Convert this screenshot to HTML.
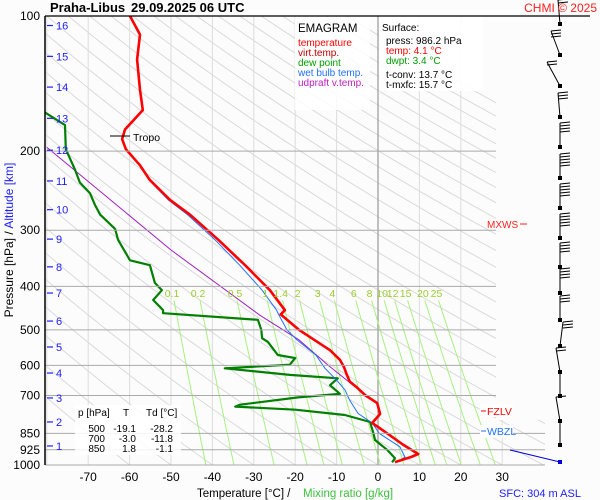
<!DOCTYPE html>
<html><head><meta charset="utf-8"><style>
html,body{margin:0;padding:0;background:#fff;}
svg{display:block;font-family:"Liberation Sans",sans-serif;}
</style></head><body>
<svg id="c" width="600" height="500" viewBox="0 0 600 500">
<rect width="600" height="500" fill="#fcfcfc"/>
<defs><clipPath id="pc"><polygon points="45,16 496,16 496,420 545,420 545,465 45,465"/></clipPath></defs>
<g id="grid" clip-path="url(#pc)"></g>
<g id="series" clip-path="url(#pc)"></g>
<g id="axes"></g>
<g id="barbs"></g>
<g><text x="50" y="12" font-size="13" font-weight="bold">Praha-Libus</text><text x="131" y="12" font-size="13" font-weight="bold">29.09.2025 06 UTC</text></g>
<text x="597" y="12" font-size="12" fill="#ff2020" text-anchor="end">CHMI © 2025</text>
<g>
<rect x="295" y="17" width="75" height="93" fill="#fff" opacity="0.85"/>
<text x="298" y="32" font-size="11.5">EMAGRAM</text>
<text x="298" y="46" font-size="10" fill="#ff0000">temperature</text>
<text x="298" y="56" font-size="10" fill="#c00000">virt.temp.</text>
<text x="298" y="66" font-size="10" fill="#00a000">dew point</text>
<text x="298" y="76" font-size="10" fill="#2070ff">wet bulb temp.</text>
<text x="298" y="86" font-size="10" fill="#c020c0">udpraft v.temp.</text>
</g>
<g>
<rect x="379" y="17" width="104" height="74" fill="#fff" opacity="0.9"/>
<text x="382" y="31" font-size="10">Surface:</text>
<text x="386" y="44" font-size="10">press: 986.2 hPa</text>
<text x="386" y="54" font-size="10" fill="#ff0000">temp: 4.1 °C</text>
<text x="386" y="64" font-size="10" fill="#00a000">dwpt: 3.4 °C</text>
<text x="386" y="78" font-size="10">t-conv: 13.7 °C</text>
<text x="386" y="88" font-size="10">t-mxfc: 15.7 °C</text>
</g>
<g><line x1="110" y1="136" x2="130" y2="136" stroke="#000"/><text x="133" y="141" font-size="10.5">Tropo</text></g>
<g>
<rect x="75" y="405" width="106" height="50" fill="#fff" opacity="0.85"/>
<text x="78" y="416" font-size="10">p [hPa]</text><text x="123" y="416" font-size="10">T</text><text x="146" y="416" font-size="10">Td [°C]</text>
<text x="105" y="432" font-size="10" text-anchor="end">500</text><text x="136" y="432" font-size="10" text-anchor="end">-19.1</text><text x="173" y="432" font-size="10" text-anchor="end">-28.2</text>
<text x="105" y="442" font-size="10" text-anchor="end">700</text><text x="136" y="442" font-size="10" text-anchor="end">-3.0</text><text x="173" y="442" font-size="10" text-anchor="end">-11.8</text>
<text x="105" y="452" font-size="10" text-anchor="end">850</text><text x="136" y="452" font-size="10" text-anchor="end">1.8</text><text x="173" y="452" font-size="10" text-anchor="end">-1.1</text>
</g>
<g><text x="487" y="228" font-size="10" fill="#ff2020">MXWS</text><line x1="520" y1="224" x2="527" y2="224" stroke="#ff2020"/></g>
<g><rect x="480" y="404" width="33" height="13" fill="#fff"/><line x1="481" y1="411" x2="486" y2="411" stroke="#ff0000"/><text x="487" y="415" font-size="10.5" fill="#ff0000">FZLV</text></g>
<g><rect x="480" y="425" width="33" height="13" fill="#fff"/><line x1="481" y1="431" x2="486" y2="431" stroke="#2070ff"/><text x="487" y="435" font-size="10.5" fill="#2070ff">WBZL</text></g>
<g><text x="197" y="497" font-size="11.5">Temperature [°C]  /</text><text x="303" y="497" font-size="11.5" fill="#40c040">Mixing ratio [g/kg]</text></g>
<text x="540" y="497" font-size="11" fill="#2020ff" text-anchor="middle">SFC: 304 m ASL</text>
<g transform="translate(13,240) rotate(-90)"><text x="0" y="0" font-size="12" text-anchor="middle"><tspan>Pressure [hPa]  /  </tspan><tspan fill="#2020ff">Altitude [km]</tspan></text></g>
</svg>
<script>
const tempTicks=[-70,-60,-50,-40,-30,-20,-10,0,10,20,30];
const presTicks=[100,200,300,400,500,600,700,850,925,1000];
const altKm=[1,2,3,4,5,6,7,8,9,10,11,12,13,14,15,16];
const altPres=[907,802,709,624,546,478,414,362,314,270,233,199,169,144,123,105];
const mixRatios=[0.1,0.2,0.5,1,1.4,2,3,4,6,8,10,12,15,20,25];
const tempP=[100,110,125,146,162,179,188,198,215,232,257,277,315,359,408,452,462,500,555,583,606,630,652,673,700,728,770,806,850,900,945,960,985];
const tempT=[-59.9,-57.5,-58.2,-57.5,-56.8,-61.1,-61.8,-60.9,-57.5,-55.1,-50.2,-45.4,-38.6,-32.1,-26.1,-22.5,-23.5,-19.1,-11.6,-9.2,-8.2,-7.5,-6.8,-5,-3,-0.2,0.5,-1.4,2.2,6,9.7,8,4.1];
const dewP=[164,175,198,220,235,248,263,277,298,315,350,359,393,408,429,452,459,475,500,522,532,569,578,598,609,630,641,664,694,707,734,741,753,774,802,850,880,925,966,986];
const dewT=[-80.4,-75.6,-75.4,-73.2,-72,-69.6,-68.4,-67.1,-63.5,-62.8,-59.9,-55.1,-53.9,-52.2,-54.3,-51.9,-51.9,-29,-28.2,-28,-26.6,-24.2,-20,-21.3,-37,-21.3,-9.7,-11.6,-9.2,-19.3,-33.3,-34.5,-20,-8,-1.9,-1.1,-0.7,2.2,4.1,3.4];
const wbP=[100,110,125,146,162,179,188,198,215,232,257,277,315,359,408,452,462,500,527,569,609,647,680,718,768,806,850,911,960,985];
const wbT=[-59.9,-57.5,-58.2,-57.5,-56.8,-61.1,-61.8,-60.9,-57.5,-55.3,-50.6,-46,-39.4,-33.4,-28,-24.5,-24,-22,-19.5,-15,-12.8,-10,-8,-6.8,-4.8,-1.4,0.3,5.3,6.5,4.6];
const updP=[196,332,464,527,600,690];
const updT=[-80,-50,-28.5,-19,-12,-3.8];
const barbY=[24,55,86,117,147,178,208,238,267,293,320,346,372,396,421,445];
const barbDx=[-2,-9,-13,-2,0,0,0,0,0,0,0,3,-4,0,-4,0];
const barbN=[2,3,2,3,4,5,5,5,4,4,3,3,2,0,1,0];

const NS="http://www.w3.org/2000/svg";
const X=t=>378+t*4.14;
const Y=p=>16+195*Math.log(p/100);
function mk(parent,tag,attrs,txt){const e=document.createElementNS(NS,tag);for(const k in attrs)e.setAttribute(k,attrs[k]);if(txt!==undefined)e.textContent=txt;document.getElementById(parent).appendChild(e);return e;}
function path(ps,ts){return ps.map((p,i)=>(i?'L':'M')+X(ts[i]).toFixed(1)+','+Y(p).toFixed(1)).join('');}

for(let th=-60;th<=240;th+=10){let d='';for(let p=100;p<=1000;p+=10){const t=(th+273.15)*Math.pow(p/1000,0.286)-273.15;d+=(p===100?'M':'L')+X(t).toFixed(1)+','+Y(p).toFixed(1);}
const e=mk('grid','path',{d:d,stroke:'#dadada','stroke-width':1,fill:'none'});

}
tempTicks.concat([-80]).forEach(t=>{const e=mk('grid','line',{x1:X(t),x2:X(t),y1:16,y2:465,stroke:t===0?'#999':'#dcdcdc','stroke-width':t===0?1.2:1});

});
presTicks.forEach(p=>{if(p===100)return;const e=mk('axes','line',{x1:45,x2:p>=850?545:496,y1:Y(p),y2:Y(p),stroke:'#aaa','stroke-width':1});

});
mixRatios.forEach(w=>{let d='';const t0=[];for(let p=430;p<=1000;p+=10){const e=w*p/(622+w);const l=Math.log(e/6.112);const t=243.5*l/(17.67-l);d+=(p===430?'M':'L')+X(t).toFixed(1)+','+Y(p).toFixed(1);if(p===430)t0.push(t);}
const e=mk('series','path',{d:d,stroke:'#a8f080','stroke-width':1,fill:'none'});


const lb=mk('axes','text',{x:X(t0[0])-2,y:297,'font-size':10.5,fill:'#9acd32','text-anchor':'middle'},String(w));

});
[[updP,updT,'#a020c0',1,'updraft-line'],[dewP,dewT,'#008000',2.2,'dewpoint-line'],[wbP,wbT,'#2070ff',1,'wetbulb-line'],[tempP,tempT,'#ff0000',2.6,'temperature-line']].forEach(s=>{
const e=mk('series','path',{d:path(s[0],s[1]),stroke:s[2],'stroke-width':s[3],fill:'none','stroke-linejoin':'round'});

});

(function(){
const a=mk('axes','line',{x1:45,x2:45,y1:16,y2:465,stroke:'#000','stroke-width':1.5});


const t=mk('axes','line',{x1:45,x2:590,y1:16,y2:16,stroke:'#000','stroke-width':1.2});


presTicks.forEach(p=>{const e=mk('axes','text',{x:40,y:Y(p)+4,'font-size':12,'text-anchor':'end',fill:'#000'},String(p));

});
tempTicks.forEach(v=>{const e=mk('axes','text',{x:X(v),y:481,'font-size':12,'text-anchor':'middle',fill:'#000'},String(v));

});
altKm.forEach((k,i)=>{const y=Y(altPres[i]);const l=mk('axes','line',{x1:47,x2:53,y1:y,y2:y,stroke:'#2020ff','stroke-width':1.2});


const e=mk('axes','text',{x:56,y:y+4,'font-size':11,fill:'#2020ff'},String(k));

});
})();

(function(){
barbY.forEach((y,i)=>{const x0=560,top=y-24,xt=x0+barbDx[i];
const s=mk('barbs','line',{x1:x0,y1:y,x2:xt,y2:top,stroke:'#000','stroke-width':1});


mk('barbs','rect',{x:x0-2,y:y-2,width:4,height:4,fill:'#000'});
for(let k=0;k<barbN[i];k++){const yy=top+k*3;const b=mk('barbs','line',{x1:xt,y1:yy,x2:xt+10,y2:yy-1,stroke:'#000','stroke-width':1});

}});
const sf=mk('barbs','line',{x1:510,y1:450,x2:560,y2:462,stroke:'#0000e0','stroke-width':1});


mk('barbs','rect',{x:558,y:460,width:4,height:4,fill:'#0000e0'});
})();
</script>
</body></html>
